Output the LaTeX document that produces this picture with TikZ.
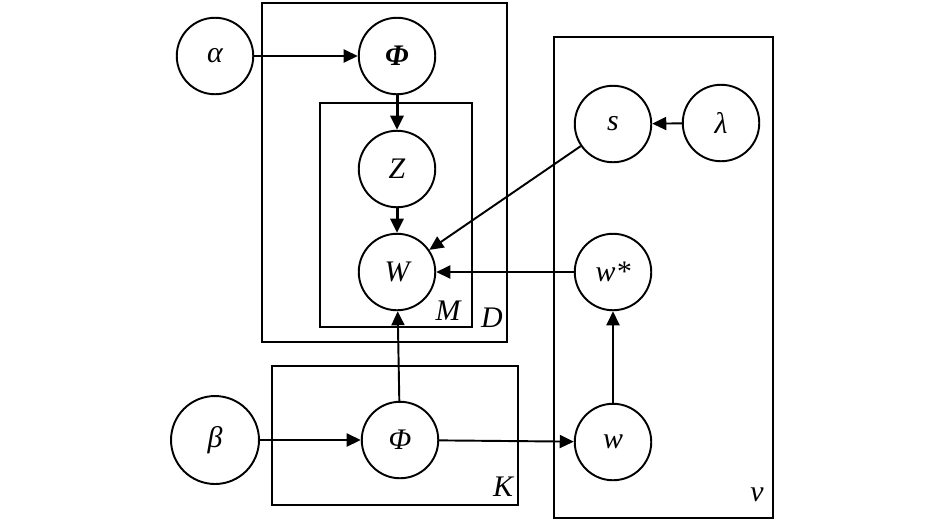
\documentclass[tikz,border=0pt]{standalone}
\usepackage{fontspec}
\setmainfont{Liberation Serif}
\usetikzlibrary{arrows.meta}

\begin{document}
\begin{tikzpicture}[x=0.02cm, y=-0.02cm,
    every node/.style={font=\fontsize{17}{20}\selectfont\itshape},
    var/.style={draw, circle, line width=1.1pt, minimum size=1.53cm, inner sep=0pt},
    plate/.style={draw, line width=1.1pt},
    edge/.style={line width=1.1pt, -{Triangle[length=8pt, width=7.4pt]}},
    thickedge/.style={line width=1.7pt, -{Triangle[length=8pt, width=7.4pt]}}]
    % Define picture size
    \useasboundingbox (0,0) rectangle (945,522);

    % Draw plates
    \draw[plate] (262,3) rectangle (507,342);
    \draw[plate] (320,103) rectangle (472,327);
    \draw[plate] (272,366) rectangle (518,505);
    \draw[plate] (554,37) rectangle (773,518);

    % Label plates
    \node (labM) at (448,311) {M};
    \node (labD) at (492,318) {D};
    \node (labK) at (503,487) {K};
    \node (labv) at (757,495) {v};

    % Draw variables
    \node[var] (alpha) at (215,56) {α};
    \node[var] (phiD) at (397,56) {\bfseries Φ};
    \node[var] (Z) at (397,169) {Z};
    \node[var] (W) at (397,272) {W};
    \node[var] (s) at (613,124) {s};
    \node[var] (lambda) at (721,123) {λ};
    \node[var] (wstar) at (613,272) {w*};
    \node[var, minimum width=1.76cm, minimum height=1.68cm] (beta) at (215,440) {β};
    \node[var] (phiK) at (400,440) {Φ};
    \node[var] (w) at (613,442) {w};

    % Draw dependencies
    \draw[edge] (alpha) -- (phiD);
    \draw[thickedge] (phiD) -- (Z);
    \draw[thickedge] (Z) -- (W);
    \draw[edge] (s) -- (W);
    \draw[edge] (wstar) -- (W);
    \draw[edge] (lambda) -- (s);
    \draw[edge] (phiK) -- (W);
    \draw[edge] (beta) -- (phiK);
    \draw[edge] (phiK) -- (w);
    \draw[edge] (w) -- (wstar);

\end{tikzpicture}
\end{document}
